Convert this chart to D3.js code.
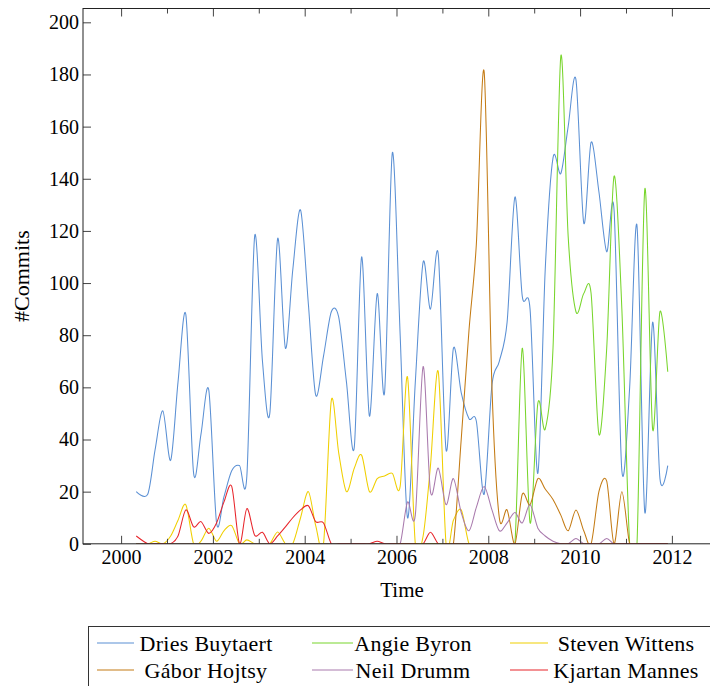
<!DOCTYPE html>
<html><head><meta charset="utf-8">
<script src="https://cdn.jsdelivr.net/npm/d3@7"></script>
<style>
body{margin:0;background:#fff;overflow:hidden}
text{font-family:'Liberation Serif','DejaVu Serif',serif;fill:#000}
</style>
</head><body>
<svg id="c" width="710" height="686"></svg>
<script>
// ---- data (decimal years, two-month bins) ----
const dates = [2000.33, 2000.58, 2000.74, 2000.91,
  2001.08, 2001.24, 2001.41, 2001.58, 2001.74, 2001.91,
  2002.08, 2002.24, 2002.41, 2002.58, 2002.74, 2002.91,
  2003.08, 2003.24, 2003.41, 2003.58, 2003.74, 2003.91,
  2004.08, 2004.24, 2004.41, 2004.58, 2004.74, 2004.91,
  2005.08, 2005.24, 2005.41, 2005.58, 2005.74, 2005.91,
  2006.08, 2006.24, 2006.41, 2006.58, 2006.74, 2006.91,
  2007.08, 2007.24, 2007.41, 2007.58, 2007.74, 2007.91,
  2008.08, 2008.24, 2008.41, 2008.58, 2008.74, 2008.91,
  2009.08, 2009.24, 2009.41, 2009.58, 2009.74, 2009.91,
  2010.08, 2010.24, 2010.41, 2010.58, 2010.74, 2010.91,
  2011.08, 2011.24, 2011.41, 2011.58, 2011.74, 2011.91];

const driesBuytaert = [20, 19, 36, 51,
  32, 62, 88, 27, 42, 59,
  8, 18, 28, 30, 26, 118,
  70, 50, 117, 75, 105, 128,
  92, 57, 72, 89, 87, 62,
  37, 110, 49, 96, 58, 150,
  80, 10, 62, 108, 90, 111,
  36, 75, 58, 48, 47, 19,
  61, 70, 85, 133, 95, 90,
  27, 105, 148, 142, 160, 178,
  123, 154, 135, 112, 128, 28,
  60, 122, 12, 85, 25, 30];

const angieByron = [0, 0, 0, 0,
  0, 0, 0, 0, 0, 0,
  0, 0, 0, 0, 0, 0,
  0, 0, 0, 0, 0, 0,
  0, 0, 0, 0, 0, 0,
  0, 0, 0, 0, 0, 0,
  0, 0, 0, 0, 0, 0,
  0, 0, 0, 0, 0, 0,
  0, 0, 0, 0, 75, 8,
  54, 44, 75, 187, 118, 89,
  96, 96, 42, 75, 141, 90,
  0, 0, 136, 44, 89, 66];

const stevenWittens = [0, 0, 1, 0,
  3, 9, 15, 0, 1, 6,
  1, 5, 7, 0, 1.5, 0,
  0, 0, 4.5, 0, 0, 10,
  20, 7, 0, 55, 35, 20,
  29, 34, 20, 25, 26, 27,
  22, 64, 0, 3, 30, 66,
  0, 9, 13, 0, 0, 0,
  0, 0, 0, 0, 0, 0,
  0, 0, 0, 0, 0, 0,
  0, 0, 0, 0, 0, 0,
  0, 0, 0, 0, 0, 0];

const gaborHojtsy = [0, 0, 0, 0,
  0, 0, 0, 0, 0, 0,
  0, 0, 0, 0, 0, 0,
  0, 0, 0, 0, 0, 0,
  0, 0, 0, 0, 0, 0,
  0, 0, 0, 0, 0, 0,
  0, 0, 0, 0, 0, 0,
  0, 0, 40, 82, 115, 181,
  60, 10, 13, 0, 19, 15,
  25, 21, 17, 11, 5, 13,
  5, 0, 20, 24, 0, 20,
  0, 0, 0, 0, 0, 0];

const neilDrumm = [0, 0, 0, 0,
  0, 0, 0, 0, 0, 0,
  0, 0, 0, 0, 0, 0,
  0, 0, 0, 0, 0, 0,
  0, 0, 0, 0, 0, 0,
  0, 0, 0, 0, 0, 0,
  0, 16, 11, 68, 20, 29,
  15, 25, 12, 5, 14, 22,
  13, 5, 8, 12, 8, 15,
  6, 3, 1, 0, 0, 2,
  0, 0, 0, 2, 0, 0,
  0, 0, 0, 0, 0, 0];

const kjartanMannes = [3, 0, 0, 0,
  0, 3, 13, 6.5, 8.5, 4,
  8, 16, 22, 0, 13.5, 3.3,
  4.4, 0, 3, 6.5, 10, 13,
  14.6, 8.5, 8, 0, 0, 0,
  0, 0, 0, 1, 0, 0,
  0, 0, 0, 0, 4.4, 0,
  0, 0, 0, 0, 0, 0,
  0, 0, 0, 0, 0, 0,
  0, 0, 0, 0, 0, 0,
  0, 0, 0, 0, 0, 0,
  0, 0, 0, 0, 0, 0];

const seriesNames = ["Dries Buytaert", "Angie Byron", "Steven Wittens", "Gábor Hojtsy", "Neil Drumm", "Kjartan Mannes"];
const seriesValues = [driesBuytaert, angieByron, stevenWittens, gaborHojtsy, neilDrumm, kjartanMannes];
const seriesColors = ["#5b90d4", "#78d52c", "#f0cf00", "#c47b14", "#a97aad", "#e8252b"];

const xMajorTicks = [2000, 2002, 2004, 2006, 2008, 2010, 2012];
const xMinorTicks = [2001, 2003, 2005, 2007, 2009, 2011, 2013];
const yTicks = [0, 20, 40, 60, 80, 100, 120, 140, 160, 180, 200];

// ---- layout ----
const L = 83, R = 721, T = 8.5, B = 543.8;
const svg = d3.select("#c");
const x = d3.scaleLinear().domain([1999.17, 2013.07]).range([L, R]);
const y = d3.scaleLinear().domain([0, 205.3]).range([B, T]);

svg.append("defs").append("clipPath").attr("id", "plot")
  .append("rect").attr("x", L).attr("y", T).attr("width", R - L).attr("height", B - T);

const line = d3.line().x(d => x(d[0])).y(d => y(d[1])).curve(d3.curveCardinal.tension(0.1));
const g = svg.append("g").attr("clip-path", "url(#plot)");
seriesValues.forEach((vals, i) => {
  g.append("path")
    .datum(dates.map((d, k) => [d, vals[k]]))
    .attr("fill", "none")
    .attr("stroke", seriesColors[i])
    .attr("stroke-width", 1.05)
    .attr("d", line);
});

const axisColor = "#444";
function styleAxis(sel) {
  sel.selectAll(".domain").remove();
  sel.selectAll(".tick line").attr("stroke", axisColor).attr("stroke-width", 1);
  sel.selectAll(".tick text").attr("font-family", "'Liberation Serif','DejaVu Serif',serif").attr("font-size", 20).attr("fill", "#000");
}
svg.append("g").attr("transform", `translate(0,${B})`)
  .call(d3.axisBottom(x).tickValues(xMajorTicks).tickFormat(d3.format("d")).tickSize(-8).tickPadding(6))
  .call(styleAxis);
svg.append("g").attr("transform", `translate(0,${B})`)
  .call(d3.axisBottom(x).tickValues(xMinorTicks).tickFormat("").tickSize(-5))
  .call(styleAxis);
svg.append("g").attr("transform", `translate(0,${T})`)
  .call(d3.axisTop(x).tickValues(xMajorTicks).tickFormat("").tickSize(-8))
  .call(styleAxis);
svg.append("g").attr("transform", `translate(0,${T})`)
  .call(d3.axisTop(x).tickValues(xMinorTicks).tickFormat("").tickSize(-5))
  .call(styleAxis);
svg.append("g").attr("transform", `translate(${L},0)`)
  .call(d3.axisLeft(y).tickValues(yTicks).tickSize(-8).tickPadding(4))
  .call(styleAxis);
svg.append("g").attr("transform", `translate(${R},0)`)
  .call(d3.axisRight(y).tickValues(yTicks).tickFormat("").tickSize(-8))
  .call(styleAxis);

svg.append("rect").attr("x", L).attr("y", T).attr("width", R - L).attr("height", B - T)
  .attr("fill", "none").attr("stroke", "#222").attr("stroke-width", 1);

svg.append("text").attr("x", (L + R) / 2).attr("y", 597).attr("text-anchor", "middle")
  .attr("font-size", 21).text("Time");
svg.append("text").attr("transform", `translate(29,${(T + B) / 2}) rotate(-90)`)
  .attr("text-anchor", "middle").attr("font-size", 22).text("#Commits");

const lg = svg.append("g");
lg.append("rect").attr("x", 88.5).attr("y", 626.5).attr("width", 623).attr("height", 90)
  .attr("fill", "#fff").attr("stroke", "#333").attr("stroke-width", 1);
const colLine = [[97, 134], [312, 353], [510, 548]];
const colText = [206, 413, 626];
const rowY = [643, 670];
seriesNames.forEach((name, i) => {
  const c = i % 3, r = Math.floor(i / 3);
  lg.append("line").attr("x1", colLine[c][0]).attr("x2", colLine[c][1])
    .attr("y1", rowY[r]).attr("y2", rowY[r])
    .attr("stroke", seriesColors[i]).attr("stroke-width", 1.1);
  lg.append("text").attr("x", colText[c]).attr("y", rowY[r]).attr("dy", "0.35em")
    .attr("text-anchor", "middle").attr("font-size", 22).attr("letter-spacing", 0.3).text(name);
});
</script>
</body></html>
